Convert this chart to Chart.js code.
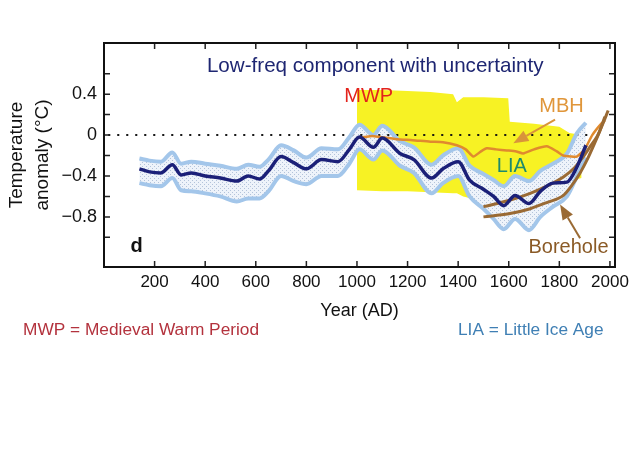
<!DOCTYPE html>
<html>
<head>
<meta charset="utf-8">
<script src="https://cdn.jsdelivr.net/npm/chart.js@4"></script>
<style>
  html, body { margin: 0; padding: 0; background: #fff; }
  #wrap { width: 630px; height: 457px; position: relative; }
</style>
</head>
<body>
<div id="wrap"><canvas id="chart"></canvas></div>
<script>
// Reconstruction (low-frequency component)
const years = [140, 180, 225, 270, 305, 345, 400, 460, 525, 570,
  615, 650, 700, 750, 800, 860, 925, 970, 1010, 1065,
  1100, 1170, 1225, 1295, 1340, 1400, 1445, 1500, 1540, 1580,
  1625, 1680, 1725, 1775, 1830, 1870, 1905];
const meanVals = [-0.33, -0.36, -0.37, -0.29, -0.39, -0.37, -0.40, -0.42, -0.45, -0.40,
  -0.43, -0.35, -0.21, -0.27, -0.33, -0.24, -0.26, -0.14, -0.02, -0.12,
  -0.03, -0.18, -0.24, -0.42, -0.33, -0.26, -0.44, -0.53, -0.60, -0.69,
  -0.59, -0.67, -0.55, -0.47, -0.46, -0.31, -0.10];
const bandUpper = [-0.23, -0.25, -0.26, -0.17, -0.28, -0.26, -0.28, -0.30, -0.33, -0.29,
  -0.31, -0.24, -0.10, -0.15, -0.22, -0.13, -0.14, -0.02, 0.10, 0.00,
  0.09, -0.06, -0.12, -0.29, -0.20, -0.13, -0.30, -0.38, -0.44, -0.50,
  -0.40, -0.45, -0.35, -0.28, -0.18, 0.02, 0.12];
const bandLower = [-0.47, -0.49, -0.50, -0.42, -0.54, -0.55, -0.57, -0.60, -0.65, -0.62,
  -0.62, -0.55, -0.40, -0.45, -0.48, -0.40, -0.40, -0.28, -0.14, -0.24,
  -0.15, -0.30, -0.37, -0.57, -0.47, -0.40, -0.60, -0.72, -0.82, -0.92,
  -0.82, -0.93, -0.80, -0.70, -0.60, -0.40, -0.22];

// MBH reconstruction
const mbhYears = [1000, 1030, 1060, 1092, 1158, 1220, 1290, 1340, 1395, 1430,
  1460, 1490, 1513, 1550, 1592, 1630, 1657, 1700, 1750, 1790,
  1815, 1845, 1869, 1900, 1930, 1965, 1980];
const mbhVals = [-0.03, -0.02, -0.01, -0.02, -0.04, -0.05, -0.065, -0.07, -0.10, -0.14,
  -0.21, -0.16, -0.13, -0.14, -0.15, -0.16, -0.18, -0.14, -0.11, -0.16,
  -0.20, -0.21, -0.21, -0.14, 0.00, 0.11, 0.14];

// MBH uncertainty (yellow)
const mbhBandYears = [1000, 1100, 1200, 1290, 1380, 1395, 1420, 1500, 1598, 1604, 1700, 1800, 1840, 1888];
const mbhBandTop = [0.44, 0.44, 0.43, 0.42, 0.40, 0.32, 0.37, 0.37, 0.36, 0.13, 0.11, 0.08, 0.02, 0.00];
const mbhBandBottom = [-0.54, -0.55, -0.55, -0.56, -0.57, -0.57, -0.60, -0.65, -0.65, -0.55, -0.50, -0.48, -0.45, -0.42];

// Borehole curves
const boreUpperYears = [1500, 1600, 1685, 1750, 1816, 1860, 1895, 1925, 1948, 1970, 1993];
const boreUpperVals = [-0.70, -0.64, -0.57, -0.50, -0.41, -0.32, -0.21, -0.10, -0.02, 0.10, 0.24];
const boreLowerYears = [1500, 1600, 1685, 1750, 1816, 1850, 1882, 1910, 1934, 1960, 1980];
const boreLowerVals = [-0.80, -0.77, -0.72, -0.66, -0.59, -0.49, -0.37, -0.24, -0.11, 0.04, 0.18];

// Axis ticks
const xTicks = [200, 400, 600, 800, 1000, 1200, 1400, 1600, 1800, 2000];
const yTicks = [-1.0, -0.8, -0.6, -0.4, -0.2, 0, 0.2, 0.4, 0.6];
const yTickLabels = ['', '\u22120.8', '', '\u22120.4', '', '0', '', '0.4', ''];

const FONT = "'Liberation Sans', Arial, sans-serif";

function pts(xs, ys) {
  return xs.map((x, i) => ({ x: x, y: ys[i] }));
}

// stippled fill for the uncertainty band
function makePattern() {
  const c = document.createElement('canvas');
  c.width = 4;
  c.height = 4;
  const g = c.getContext('2d');
  g.fillStyle = '#eef3fa';
  g.fillRect(0, 0, 4, 4);
  g.fillStyle = '#b3c3da';
  g.fillRect(0, 0, 1, 1);
  g.fillRect(2, 2, 1, 1);
  return g.createPattern(c, 'repeat');
}

// text labels inside the plot, in data units
const plotLabels = [
  { text: 'Low-freq component with uncertainty', x: 1072, y: 0.62, color: '#1e2672', size: 20.6, align: 'center' },
  { text: 'MWP', x: 950, y: 0.325, color: '#e3231c', size: 20, align: 'left' },
  { text: 'MBH', x: 1721, y: 0.227, color: '#e0963a', size: 20, align: 'left' },
  { text: 'LIA', x: 1553, y: -0.358, color: '#1d8a6c', size: 20, align: 'left' },
  { text: 'Borehole', x: 1678, y: -1.154, color: '#8a5a26', size: 20, align: 'left' },
  { text: 'd', x: 105, y: -1.139, color: '#111', size: 20, align: 'left', bold: true }
];

// arrows: from (x1,y1) to tip (x2,y2), data units
const arrows = [
  { x1: 1783, y1: 0.15, x2: 1618, y2: -0.08, color: '#d9943a' },
  { x1: 1882, y1: -1.01, x2: 1803, y2: -0.68, color: '#9a6a34' }
];

function drawArrow(ctx, x1, y1, x2, y2, color) {
  const ang = Math.atan2(y2 - y1, x2 - x1);
  const len = 15, half = 6;
  const bx = x2 - len * Math.cos(ang), by = y2 - len * Math.sin(ang);
  ctx.strokeStyle = color;
  ctx.fillStyle = color;
  ctx.lineWidth = 2;
  ctx.beginPath();
  ctx.moveTo(x1, y1);
  ctx.lineTo(bx, by);
  ctx.stroke();
  ctx.beginPath();
  ctx.moveTo(x2, y2);
  ctx.lineTo(bx + half * Math.sin(ang), by - half * Math.cos(ang));
  ctx.lineTo(bx - half * Math.sin(ang), by + half * Math.cos(ang));
  ctx.closePath();
  ctx.fill();
}

const decorations = {
  id: 'decorations',
  beforeDatasetsDraw(chart) {
    // dotted zero line, above the fills
    const { ctx, chartArea, scales } = chart;
    const y0 = scales.y.getPixelForValue(0);
    ctx.save();
    ctx.strokeStyle = '#111';
    ctx.lineWidth = 2;
    ctx.lineCap = 'round';
    ctx.setLineDash([0.5, 8.5]);
    ctx.beginPath();
    ctx.moveTo(chartArea.left + 5, y0);
    ctx.lineTo(scales.x.getPixelForValue(1930), y0);
    ctx.stroke();
    ctx.restore();
  },
  afterDraw(chart) {
    const { ctx, chartArea: a, scales } = chart;
    const sx = scales.x, sy = scales.y;
    ctx.save();

    // inward ticks on all four sides
    ctx.strokeStyle = '#222';
    ctx.lineWidth = 1.5;
    const tl = 6;
    ctx.beginPath();
    xTicks.forEach((v) => {
      const px = sx.getPixelForValue(v);
      ctx.moveTo(px, a.bottom);
      ctx.lineTo(px, a.bottom - tl);
      ctx.moveTo(px, a.top);
      ctx.lineTo(px, a.top + tl);
    });
    yTicks.forEach((v) => {
      const py = sy.getPixelForValue(v);
      ctx.moveTo(a.left, py);
      ctx.lineTo(a.left + tl, py);
      ctx.moveTo(a.right, py);
      ctx.lineTo(a.right - tl, py);
    });
    ctx.stroke();

    // frame
    ctx.strokeStyle = '#111';
    ctx.lineWidth = 2;
    ctx.strokeRect(a.left, a.top, a.right - a.left, a.bottom - a.top);

    // labels
    ctx.textBaseline = 'alphabetic';
    plotLabels.forEach((l) => {
      ctx.font = (l.bold ? 'bold ' : '') + l.size + 'px ' + FONT;
      ctx.fillStyle = l.color;
      ctx.textAlign = l.align;
      ctx.fillText(l.text, sx.getPixelForValue(l.x), sy.getPixelForValue(l.y));
    });

    arrows.forEach((r) => {
      drawArrow(ctx, sx.getPixelForValue(r.x1), sy.getPixelForValue(r.y1),
        sx.getPixelForValue(r.x2), sy.getPixelForValue(r.y2), r.color);
    });

    // footnotes below the chart
    ctx.font = '17.3px ' + FONT;
    ctx.textAlign = 'left';
    ctx.fillStyle = '#b3323d';
    ctx.fillText('MWP = Medieval Warm Period', 23, 335);
    ctx.fillStyle = '#3f7fb4';
    ctx.fillText('LIA = Little Ice Age', 458, 335);
    ctx.restore();
  }
};

const lineBase = { pointRadius: 0, fill: false, cubicInterpolationMode: 'monotone' };

new Chart(document.getElementById('chart'), {
  type: 'line',
  data: {
    datasets: [
      { ...lineBase, label: 'Low-freq', data: pts(years, meanVals), borderColor: '#1b2078', borderWidth: 3.5 },
      { ...lineBase, label: 'Borehole upper', data: pts(boreUpperYears, boreUpperVals), borderColor: '#9a6a34', borderWidth: 3 },
      { ...lineBase, label: 'Borehole lower', data: pts(boreLowerYears, boreLowerVals), borderColor: '#9a6a34', borderWidth: 3 },
      { ...lineBase, label: 'MBH', data: pts(mbhYears, mbhVals), borderColor: '#e08a2e', borderWidth: 2.5, tension: 0.2, cubicInterpolationMode: 'default' },
      { ...lineBase, label: 'Upper', data: pts(years, bandUpper), borderColor: '#a3c6ea', borderWidth: 4, fill: 5, backgroundColor: makePattern() },
      { ...lineBase, label: 'Lower', data: pts(years, bandLower), borderColor: '#a3c6ea', borderWidth: 4 },
      { ...lineBase, label: 'MBH top', data: pts(mbhBandYears, mbhBandTop), borderWidth: 0, borderColor: 'rgba(0,0,0,0)', fill: 7, backgroundColor: '#f7f224', cubicInterpolationMode: 'default', tension: 0 },
      { ...lineBase, label: 'MBH bottom', data: pts(mbhBandYears, mbhBandBottom), borderWidth: 0, borderColor: 'rgba(0,0,0,0)', cubicInterpolationMode: 'default', tension: 0 }
    ]
  },
  options: {
    responsive: true,
    maintainAspectRatio: false,
    animation: false,
    layout: { padding: { top: 43, right: 15, bottom: 0, left: 0 } },
    plugins: {
      legend: { display: false },
      tooltip: { enabled: false },
      filler: { drawTime: 'beforeDatasetsDraw' }
    },
    scales: {
      x: {
        type: 'linear',
        min: 0,
        max: 2020,
        afterBuildTicks: (scale) => { scale.ticks = xTicks.map((v) => ({ value: v })); },
        afterFit: (scale) => {
          scale.height = 190;
          scale.paddingLeft = 0;
          scale.paddingRight = 0;
        },
        grid: { display: false, drawTicks: false },
        border: { display: false },
        ticks: { color: '#111', padding: 5, font: { family: FONT, size: 17 }, callback: (v) => String(v) },
        title: {
          display: true,
          text: 'Year (AD)',
          color: '#111',
          font: { family: FONT, size: 18 },
          padding: { top: 0, bottom: 135 }
        }
      },
      y: {
        min: -1.29,
        max: 0.9,
        afterBuildTicks: (scale) => { scale.ticks = yTicks.map((v) => ({ value: v })); },
        afterFit: (scale) => { scale.width = 104; },
        grid: { display: false, drawTicks: false },
        border: { display: false },
        ticks: { color: '#111', padding: 7, font: { family: FONT, size: 18 }, callback: (v, i) => yTickLabels[i] },
        title: {
          display: true,
          text: ['Temperature', 'anomaly (\u00b0C)'],
          color: '#111',
          font: { family: FONT, size: 19, lineHeight: 1.35 },
          padding: { top: 4 }
        }
      }
    }
  },
  plugins: [decorations]
});
</script>
</body>
</html>
